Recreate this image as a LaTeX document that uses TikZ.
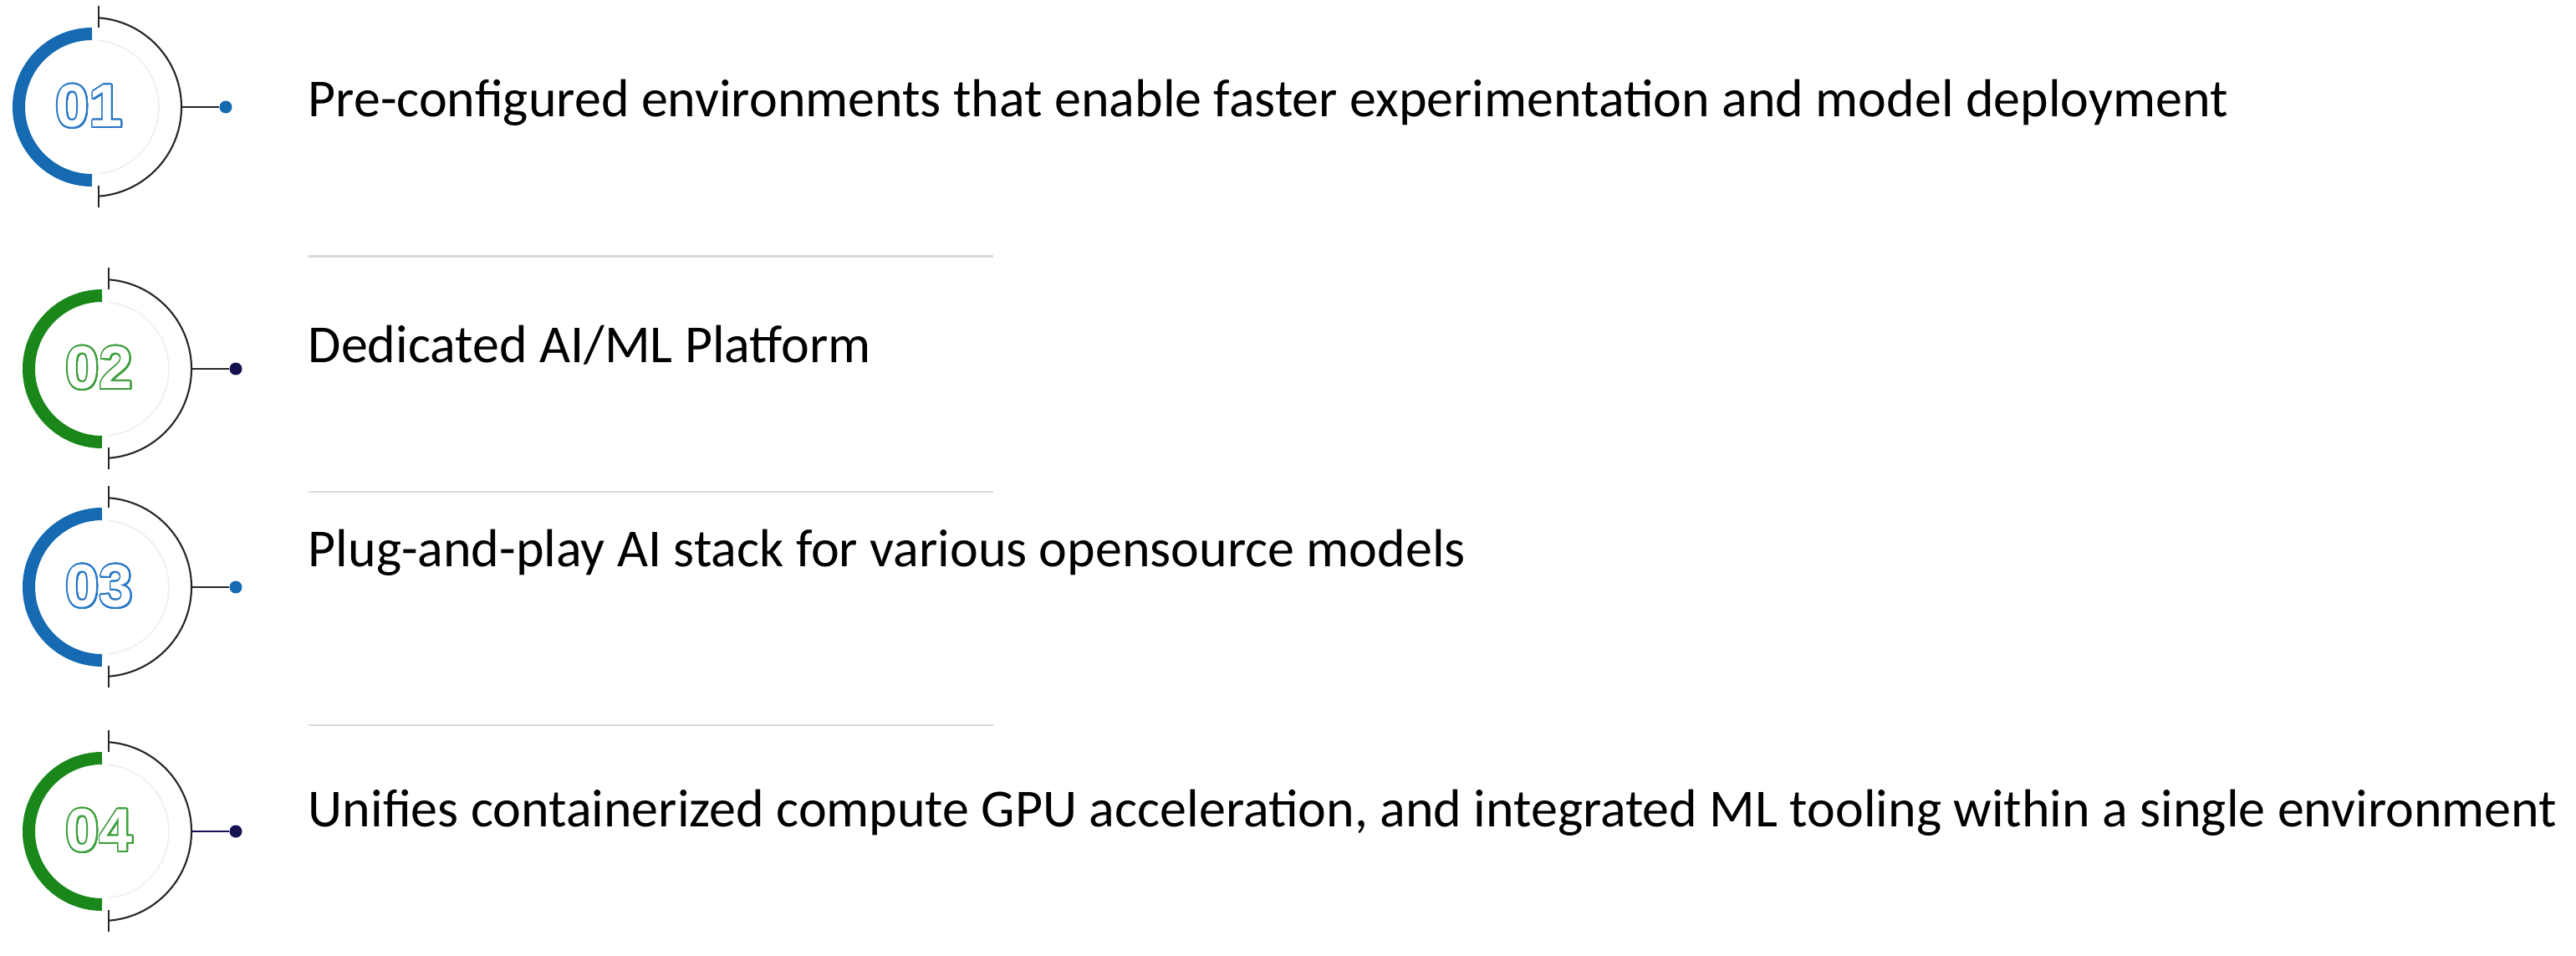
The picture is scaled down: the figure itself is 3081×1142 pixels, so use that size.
\documentclass[tikz,border=0pt]{standalone}
\usepackage{fontspec}
\setmainfont{Carlito}
\newfontfamily\numfont{Liberation Sans}
\usepackage{contour}
\contourlength{0.55pt}
\contournumber{32}
\definecolor{cblue}{RGB}{22,106,178}
\definecolor{cgreen}{RGB}{26,135,26}
\definecolor{nblue}{RGB}{38,118,198}
\definecolor{ngreen}{RGB}{58,158,58}
\definecolor{navy}{RGB}{20,18,80}
\definecolor{dgray}{RGB}{38,38,38}
\definecolor{sepgray}{RGB}{217,217,217}
\begin{document}
\begin{tikzpicture}[x=0.1mm,y=0.1mm,
  ringarc/.style={line width=1.5mm},
  halfarc/.style={draw=dgray,line width=0.6pt},
  faintarc/.style={draw=black!6,line width=0.5pt},
  numtext/.style={font=\numfont\bfseries\fontsize{20.5}{22}\selectfont,text=white,inner sep=0pt},
  dotnode/.style={circle,inner sep=0pt,minimum size=1.5mm},
  linktext/.style={font=\fontsize{18.2}{21}\selectfont,anchor=base west,inner sep=0pt,text=black},
  sepline/.style={draw=sepgray,line width=0.85pt}]
\useasboundingbox (0,0) rectangle (3081,1142);
\fill[white] (0,0) rectangle (3081,1142);
\foreach \i/\cx/\cy/\ac/\nc/\dc/\lc in {1/110/1014/cblue/nblue/cblue/dgray,
  2/122/701/cgreen/ngreen/navy/dgray,
  3/122/440/cblue/nblue/cblue/dgray,
  4/122/148/cgreen/ngreen/navy/navy}{
  \coordinate (c\i) at (\cx,\cy);
  % coloured half ring
  \draw[ringarc,draw=\ac] (\cx,\cy) ++(90:87.5) arc[start angle=90,end angle=270,radius=87.5];
  % faint inner ring
  \draw[faintarc] (\cx,\cy) ++(-85:80) arc[start angle=-85,end angle=85,radius=80];
  % black half circle with ticks
  \draw[halfarc] (\cx,\cy) ++(85.7:107) arc[start angle=85.7,end angle=-85.7,radius=107];
  \draw[halfarc] (\cx+8,\cy+121) -- (\cx+8,\cy+95);
  \draw[halfarc] (\cx+8,\cy-94) -- (\cx+8,\cy-120);
  % number
  \node[numtext] (num\i) at (\cx-3,\cy) {\contour{\nc}{0\i}};
  % connector and dot
  \coordinate (r\i) at (\cx+107,\cy);
  \node[dotnode,fill=\dc] (d\i) at (\cx+160,\cy) {};
  \draw[draw=\lc,line width=0.6pt] (r\i) -- (d\i);
}
\node[linktext] (t1) at (368,1002) {Pre-configured environments that enable faster experimentation and model deployment};
\node[linktext] (t2) at (368,708) {Dedicated AI/ML Platform};
\node[linktext] (t3) at (368,464) {Plug-and-play AI stack for various opensource models};
\node[linktext] (t4) at (368,154) {Unifies containerized compute GPU acceleration, and integrated ML tooling within a single environment};
\coordinate (s1a) at (369,835); \coordinate (s1b) at (1188,835);
\coordinate (s2a) at (369,554); \coordinate (s2b) at (1188,554);
\coordinate (s3a) at (369,275); \coordinate (s3b) at (1188,275);
\draw[sepline] (s1a) -- (s1b);
\draw[sepline] (s2a) -- (s2b);
\draw[sepline] (s3a) -- (s3b);
\end{tikzpicture}
\end{document}
